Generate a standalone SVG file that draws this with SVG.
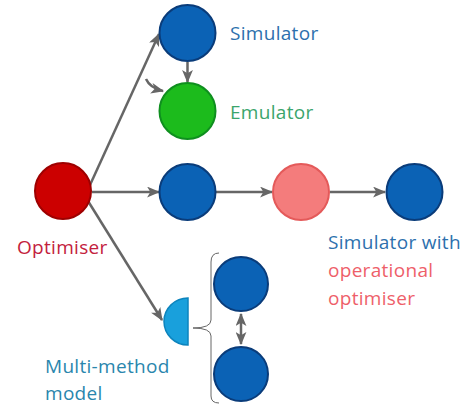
<svg xmlns="http://www.w3.org/2000/svg" width="466" height="406" viewBox="0 0 466 406">
<style>
.lbl{font-family:"Open Sans","Liberation Sans",sans-serif;font-size:19px;letter-spacing:0.3px}
.blue{fill:#0b62b5;stroke:#0a3c7a;stroke-width:2}
.green{fill:#1cbb1c;stroke:#0f8f1f;stroke-width:2}
.red{fill:#cc0000;stroke:#9e0000;stroke-width:2}
.pink{fill:#f47c7c;stroke:#e45a5a;stroke-width:2}
.half{fill:#19a0dc;stroke:#0d84bd;stroke-width:1.5}
.edge{fill:none;stroke:#666;stroke-width:2.5}
</style>
<defs>
<marker id="ah" viewBox="0 0 12 10" refX="11" refY="5" markerWidth="13" markerHeight="11" markerUnits="userSpaceOnUse" orient="auto">
<path d="M0,0 L12,5 L0,10 L3,5 z" fill="#666"/>
</marker>
<marker id="ahs" viewBox="0 0 12 10" refX="1" refY="5" markerWidth="13" markerHeight="11" markerUnits="userSpaceOnUse" orient="auto">
<path d="M12,0 L0,5 L12,10 L9,5 z" fill="#666"/>
</marker>
</defs>
<g id="connectors">
<path class="edge" d="M90,185 L159,34" marker-end="url(#ah)"/>
<path class="edge" d="M146,79 Q150,88 163,91" marker-end="url(#ah)"/>
<path class="edge" d="M187.5,62 L187.5,82" marker-end="url(#ah)"/>
<path class="edge" d="M92,192 L159,192" marker-end="url(#ah)"/>
<path class="edge" d="M216,192 L272,192" marker-end="url(#ah)"/>
<path class="edge" d="M330,192 L385,192" marker-end="url(#ah)"/>
<path class="edge" d="M88,201 L162,320" marker-end="url(#ah)"/>
<path class="edge" d="M241,314 L241,344" marker-start="url(#ahs)" marker-end="url(#ah)"/>
<path fill="none" stroke="#666" stroke-width="1" d="M219,253 Q211,253 211,262 L211,320 Q211,328 193,328 Q211,328 211,336 L211,396 Q211,403 219,403"/>
</g>
<g id="optimiser">
<circle class="red" cx="63" cy="191" r="28"/>
<text class="lbl" x="17" y="254" fill="#c3213d">Optimiser</text>
</g>
<g id="simulator">
<circle class="blue" cx="187.5" cy="33" r="28"/>
<text class="lbl" x="230" y="40" fill="#2d70ad">Simulator</text>
</g>
<g id="emulator">
<circle class="green" cx="187.5" cy="111" r="28"/>
<text class="lbl" x="230" y="119" fill="#3ba56c">Emulator</text>
</g>
<g id="sim2">
<circle class="blue" cx="187.5" cy="192" r="28"/>
</g>
<g id="opt-op">
<circle class="pink" cx="301" cy="192" r="28"/>
</g>
<g id="sim3">
<circle class="blue" cx="414.5" cy="192" r="28"/>
<text class="lbl" x="328" y="249"><tspan fill="#2d70ad">Simulator with</tspan><tspan x="328" y="277" fill="#ee5f6a">operational</tspan><tspan x="328" y="305" fill="#ee5f6a">optimiser</tspan></text>
</g>
<g id="multi">
<path class="half" d="M188,298 A24,23.5 0 0 0 188,345 Z"/>
<text class="lbl" x="45" y="373" fill="#2a86ad">Multi-method<tspan x="45" y="400">model</tspan></text>
</g>
<g id="sub1">
<circle class="blue" cx="241" cy="284" r="27"/>
</g>
<g id="sub2">
<circle class="blue" cx="241" cy="374" r="27"/>
</g>
</svg>
